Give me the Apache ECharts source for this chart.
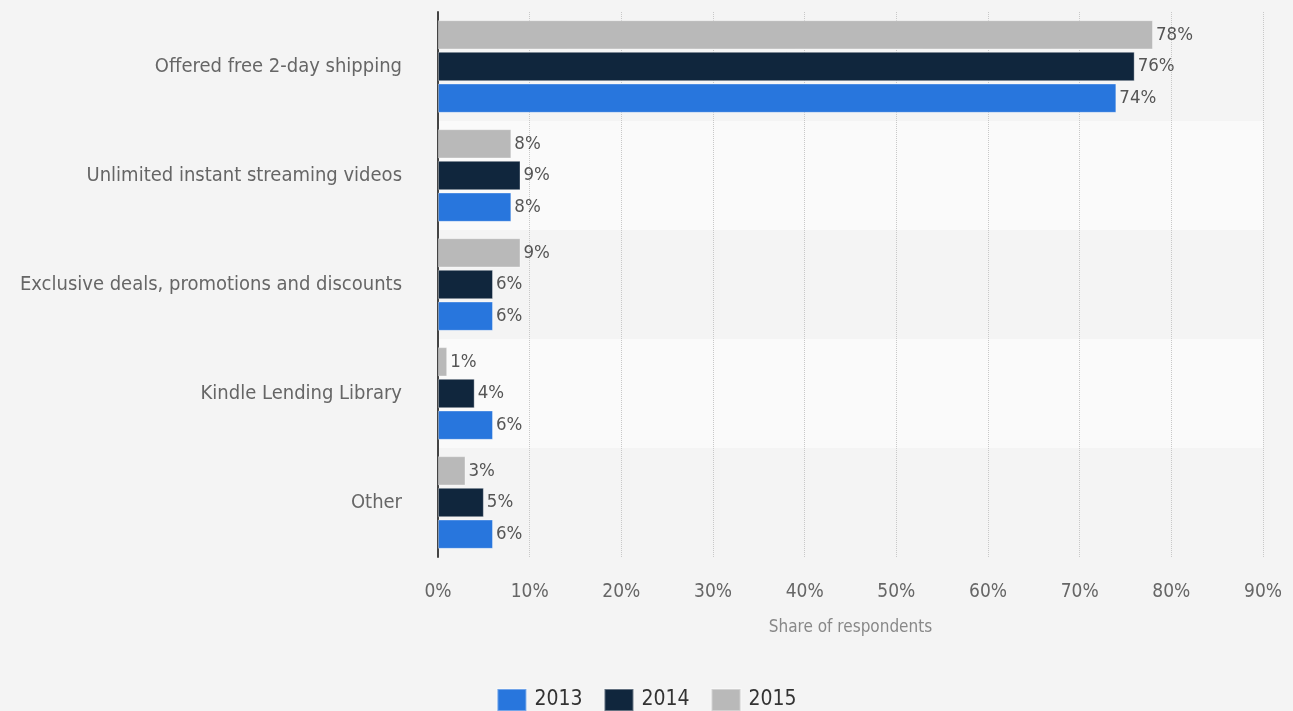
<!DOCTYPE html>
<html>
<head>
<meta charset="utf-8">
<script src="https://cdn.jsdelivr.net/npm/echarts@6/dist/echarts.min.js"></script>
<style>
  html, body { margin: 0; padding: 0; background: #f4f4f4; }
  #chart { width: 1293px; height: 711px; }
</style>
</head>
<body>
<div id="chart"></div>
<script>
// 数据
const categories = [
  "Offered free 2-day shipping",
  "Unlimited instant streaming videos",
  "Exclusive deals, promotions and discounts",
  "Kindle Lending Library",
  "Other"
]
const years = ["2013", "2014", "2015"]
const values2013 = [74, 8, 6, 6, 6]
const values2014 = [76, 9, 6, 4, 5]
const values2015 = [78, 8, 9, 1, 3]
const xTicks = [0, 10, 20, 30, 40, 50, 60, 70, 80, 90]

const colors = ["#2876dd", "#10263d", "#b9b9b9"]
const font = "DejaVu Sans Condensed"

const chart = echarts.init(document.getElementById("chart"))

function makeSeries(name, data, color) {
  return {
    name: name,
    type: "bar",
    data: data,
    barCategoryGap: "15%",
    barGap: "8%",
    itemStyle: { color: color, borderColor: "rgba(255,255,255,0.35)", borderWidth: 1 },
    label: {
      show: true,
      position: "right",
      distance: 3,
      formatter: "{c}%",
      color: "#555",
      fontFamily: font,
      fontSize: 18.5
    }
  }
}

chart.setOption({
  backgroundColor: "#f4f4f4",
  animation: false,
  grid: { left: 438, right: 30, top: 12, bottom: 154 },
  legend: {
    bottom: -6,
    left: "center",
    icon: "rect",
    itemWidth: 29,
    itemHeight: 22,
    itemGap: 21,
    data: years,
    textStyle: { color: "#333", fontFamily: font, fontSize: 21, padding: [0, 0, 0, 3] }
  },
  xAxis: {
    type: "value",
    min: xTicks[0],
    max: xTicks[xTicks.length - 1],
    interval: 10,
    name: "Share of respondents",
    nameLocation: "middle",
    nameGap: 62,
    nameTextStyle: { color: "#888", fontFamily: font, fontSize: 17 },
    axisLine: { show: false },
    axisTick: { show: false },
    axisLabel: { color: "#666", fontFamily: font, fontSize: 19, margin: 26, formatter: "{value}%" },
    splitLine: { show: true, lineStyle: { color: "#c8c8c8", type: "dotted", width: 1 } }
  },
  yAxis: {
    type: "category",
    inverse: true,
    data: categories,
    axisLine: { show: true, lineStyle: { color: "#444", width: 2 } },
    axisTick: { show: false },
    axisLabel: { color: "#666", fontFamily: font, fontSize: 20, margin: 36 },
    splitArea: { show: true, areaStyle: { color: ["#f4f4f4", "#fafafa"] } }
  },
  series: [
    makeSeries(years[2], values2015, colors[2]),
    makeSeries(years[1], values2014, colors[1]),
    makeSeries(years[0], values2013, colors[0])
  ]
})
</script>
</body>
</html>
